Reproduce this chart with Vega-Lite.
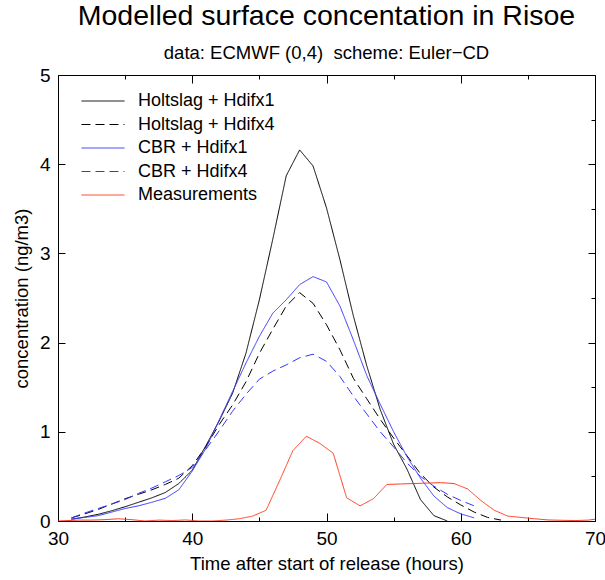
{
  "$schema": "https://vega.github.io/schema/vega-lite/v6.json",
  "width": 537,
  "height": 446,
  "autosize": {"type": "none"},
  "padding": {"left": 58, "top": 75, "right": 10, "bottom": 59},
  "background": "white",
  "title": {
    "text": "Modelled surface concentation in Risoe",
    "subtitle": "data: ECMWF (0,4)\u00a0 scheme: Euler\u2212CD",
    "anchor": "middle",
    "font": "Liberation Sans",
    "fontSize": 28.5,
    "fontWeight": "normal",
    "color": "black",
    "subtitleFont": "Liberation Sans",
    "subtitleFontSize": 18.5,
    "subtitleColor": "black",
    "subtitlePadding": 13,
    "offset": 4
  },
  "config": {
    "font": "Liberation Sans",
    "view": {"stroke": "black", "strokeWidth": 1},
    "axis": {
      "domain": false,
      "grid": false,
      "labelFont": "Liberation Sans",
      "labelFontSize": 19,
      "labelColor": "black",
      "titleFont": "Liberation Sans",
      "titleFontSize": 18.5,
      "titleFontWeight": "normal",
      "titleColor": "black",
      "tickColor": "black"
    },
    "legend": {
      "labelFont": "Liberation Sans",
      "labelFontSize": 18,
      "labelColor": "black"
    }
  },
  "data": {
    "values": [
      {"t": 31, "c": 0.02, "s": "Holtslag + Hdifx1"},
      {"t": 32, "c": 0.045, "s": "Holtslag + Hdifx1"},
      {"t": 33, "c": 0.075, "s": "Holtslag + Hdifx1"},
      {"t": 34, "c": 0.115, "s": "Holtslag + Hdifx1"},
      {"t": 35, "c": 0.16, "s": "Holtslag + Hdifx1"},
      {"t": 36, "c": 0.21, "s": "Holtslag + Hdifx1"},
      {"t": 37, "c": 0.26, "s": "Holtslag + Hdifx1"},
      {"t": 38, "c": 0.32, "s": "Holtslag + Hdifx1"},
      {"t": 39, "c": 0.42, "s": "Holtslag + Hdifx1"},
      {"t": 40, "c": 0.57, "s": "Holtslag + Hdifx1"},
      {"t": 41, "c": 0.84, "s": "Holtslag + Hdifx1"},
      {"t": 42, "c": 1.12, "s": "Holtslag + Hdifx1"},
      {"t": 43, "c": 1.43, "s": "Holtslag + Hdifx1"},
      {"t": 44, "c": 1.88, "s": "Holtslag + Hdifx1"},
      {"t": 45, "c": 2.48, "s": "Holtslag + Hdifx1"},
      {"t": 46, "c": 3.16, "s": "Holtslag + Hdifx1"},
      {"t": 47, "c": 3.87, "s": "Holtslag + Hdifx1"},
      {"t": 48, "c": 4.16, "s": "Holtslag + Hdifx1"},
      {"t": 49, "c": 3.98, "s": "Holtslag + Hdifx1"},
      {"t": 50, "c": 3.51, "s": "Holtslag + Hdifx1"},
      {"t": 51, "c": 2.93, "s": "Holtslag + Hdifx1"},
      {"t": 52, "c": 2.3, "s": "Holtslag + Hdifx1"},
      {"t": 53, "c": 1.74, "s": "Holtslag + Hdifx1"},
      {"t": 54, "c": 1.25, "s": "Holtslag + Hdifx1"},
      {"t": 55, "c": 0.86, "s": "Holtslag + Hdifx1"},
      {"t": 56, "c": 0.58, "s": "Holtslag + Hdifx1"},
      {"t": 57, "c": 0.24, "s": "Holtslag + Hdifx1"},
      {"t": 58, "c": 0.06, "s": "Holtslag + Hdifx1"},
      {"t": 59, "c": 0.0, "s": "Holtslag + Hdifx1"},

      {"t": 31, "c": 0.035, "s": "Holtslag + Hdifx4"},
      {"t": 32, "c": 0.08, "s": "Holtslag + Hdifx4"},
      {"t": 33, "c": 0.13, "s": "Holtslag + Hdifx4"},
      {"t": 34, "c": 0.19, "s": "Holtslag + Hdifx4"},
      {"t": 35, "c": 0.25, "s": "Holtslag + Hdifx4"},
      {"t": 36, "c": 0.3, "s": "Holtslag + Hdifx4"},
      {"t": 37, "c": 0.35, "s": "Holtslag + Hdifx4"},
      {"t": 38, "c": 0.41, "s": "Holtslag + Hdifx4"},
      {"t": 39, "c": 0.48, "s": "Holtslag + Hdifx4"},
      {"t": 40, "c": 0.62, "s": "Holtslag + Hdifx4"},
      {"t": 41, "c": 0.83, "s": "Holtslag + Hdifx4"},
      {"t": 42, "c": 1.08, "s": "Holtslag + Hdifx4"},
      {"t": 43, "c": 1.3, "s": "Holtslag + Hdifx4"},
      {"t": 44, "c": 1.56, "s": "Holtslag + Hdifx4"},
      {"t": 45, "c": 1.88, "s": "Holtslag + Hdifx4"},
      {"t": 46, "c": 2.15, "s": "Holtslag + Hdifx4"},
      {"t": 47, "c": 2.41, "s": "Holtslag + Hdifx4"},
      {"t": 48, "c": 2.56, "s": "Holtslag + Hdifx4"},
      {"t": 49, "c": 2.44, "s": "Holtslag + Hdifx4"},
      {"t": 50, "c": 2.2, "s": "Holtslag + Hdifx4"},
      {"t": 51, "c": 1.92, "s": "Holtslag + Hdifx4"},
      {"t": 52, "c": 1.6, "s": "Holtslag + Hdifx4"},
      {"t": 53, "c": 1.37, "s": "Holtslag + Hdifx4"},
      {"t": 54, "c": 1.14, "s": "Holtslag + Hdifx4"},
      {"t": 55, "c": 0.93, "s": "Holtslag + Hdifx4"},
      {"t": 56, "c": 0.73, "s": "Holtslag + Hdifx4"},
      {"t": 57, "c": 0.53, "s": "Holtslag + Hdifx4"},
      {"t": 58, "c": 0.38, "s": "Holtslag + Hdifx4"},
      {"t": 59, "c": 0.27, "s": "Holtslag + Hdifx4"},
      {"t": 60, "c": 0.18, "s": "Holtslag + Hdifx4"},
      {"t": 61, "c": 0.1, "s": "Holtslag + Hdifx4"},
      {"t": 62, "c": 0.04, "s": "Holtslag + Hdifx4"},
      {"t": 63, "c": 0.01, "s": "Holtslag + Hdifx4"},

      {"t": 31, "c": 0.02, "s": "CBR + Hdifx1"},
      {"t": 32, "c": 0.04, "s": "CBR + Hdifx1"},
      {"t": 33, "c": 0.06, "s": "CBR + Hdifx1"},
      {"t": 34, "c": 0.1, "s": "CBR + Hdifx1"},
      {"t": 35, "c": 0.14, "s": "CBR + Hdifx1"},
      {"t": 36, "c": 0.17, "s": "CBR + Hdifx1"},
      {"t": 37, "c": 0.21, "s": "CBR + Hdifx1"},
      {"t": 38, "c": 0.255, "s": "CBR + Hdifx1"},
      {"t": 39, "c": 0.35, "s": "CBR + Hdifx1"},
      {"t": 40, "c": 0.56, "s": "CBR + Hdifx1"},
      {"t": 41, "c": 0.81, "s": "CBR + Hdifx1"},
      {"t": 42, "c": 1.13, "s": "CBR + Hdifx1"},
      {"t": 43, "c": 1.45, "s": "CBR + Hdifx1"},
      {"t": 44, "c": 1.77, "s": "CBR + Hdifx1"},
      {"t": 45, "c": 2.07, "s": "CBR + Hdifx1"},
      {"t": 46, "c": 2.33, "s": "CBR + Hdifx1"},
      {"t": 47, "c": 2.48, "s": "CBR + Hdifx1"},
      {"t": 48, "c": 2.65, "s": "CBR + Hdifx1"},
      {"t": 49, "c": 2.74, "s": "CBR + Hdifx1"},
      {"t": 50, "c": 2.68, "s": "CBR + Hdifx1"},
      {"t": 51, "c": 2.41, "s": "CBR + Hdifx1"},
      {"t": 52, "c": 2.03, "s": "CBR + Hdifx1"},
      {"t": 53, "c": 1.63, "s": "CBR + Hdifx1"},
      {"t": 54, "c": 1.31, "s": "CBR + Hdifx1"},
      {"t": 55, "c": 1.0, "s": "CBR + Hdifx1"},
      {"t": 56, "c": 0.72, "s": "CBR + Hdifx1"},
      {"t": 57, "c": 0.48, "s": "CBR + Hdifx1"},
      {"t": 58, "c": 0.28, "s": "CBR + Hdifx1"},
      {"t": 59, "c": 0.15, "s": "CBR + Hdifx1"},
      {"t": 60, "c": 0.08, "s": "CBR + Hdifx1"},
      {"t": 61, "c": 0.035, "s": "CBR + Hdifx1"},

      {"t": 31, "c": 0.035, "s": "CBR + Hdifx4"},
      {"t": 32, "c": 0.09, "s": "CBR + Hdifx4"},
      {"t": 33, "c": 0.14, "s": "CBR + Hdifx4"},
      {"t": 34, "c": 0.19, "s": "CBR + Hdifx4"},
      {"t": 35, "c": 0.24, "s": "CBR + Hdifx4"},
      {"t": 36, "c": 0.31, "s": "CBR + Hdifx4"},
      {"t": 37, "c": 0.37, "s": "CBR + Hdifx4"},
      {"t": 38, "c": 0.44, "s": "CBR + Hdifx4"},
      {"t": 39, "c": 0.51, "s": "CBR + Hdifx4"},
      {"t": 40, "c": 0.6, "s": "CBR + Hdifx4"},
      {"t": 41, "c": 0.8, "s": "CBR + Hdifx4"},
      {"t": 42, "c": 1.01, "s": "CBR + Hdifx4"},
      {"t": 43, "c": 1.23, "s": "CBR + Hdifx4"},
      {"t": 44, "c": 1.42, "s": "CBR + Hdifx4"},
      {"t": 45, "c": 1.59, "s": "CBR + Hdifx4"},
      {"t": 46, "c": 1.68, "s": "CBR + Hdifx4"},
      {"t": 47, "c": 1.75, "s": "CBR + Hdifx4"},
      {"t": 48, "c": 1.83, "s": "CBR + Hdifx4"},
      {"t": 49, "c": 1.87, "s": "CBR + Hdifx4"},
      {"t": 50, "c": 1.79, "s": "CBR + Hdifx4"},
      {"t": 51, "c": 1.62, "s": "CBR + Hdifx4"},
      {"t": 52, "c": 1.4, "s": "CBR + Hdifx4"},
      {"t": 53, "c": 1.2, "s": "CBR + Hdifx4"},
      {"t": 54, "c": 1.0, "s": "CBR + Hdifx4"},
      {"t": 55, "c": 0.83, "s": "CBR + Hdifx4"},
      {"t": 56, "c": 0.65, "s": "CBR + Hdifx4"},
      {"t": 57, "c": 0.5, "s": "CBR + Hdifx4"},
      {"t": 58, "c": 0.39, "s": "CBR + Hdifx4"},
      {"t": 59, "c": 0.3, "s": "CBR + Hdifx4"},
      {"t": 60, "c": 0.23, "s": "CBR + Hdifx4"},
      {"t": 61, "c": 0.17, "s": "CBR + Hdifx4"},

      {"t": 30, "c": 0.0, "s": "Measurements"},
      {"t": 31.5, "c": 0.01, "s": "Measurements"},
      {"t": 32.5, "c": 0.01, "s": "Measurements"},
      {"t": 33.5, "c": 0.015, "s": "Measurements"},
      {"t": 34.5, "c": 0.025, "s": "Measurements"},
      {"t": 35.5, "c": 0.015, "s": "Measurements"},
      {"t": 36.5, "c": 0.0, "s": "Measurements"},
      {"t": 37.5, "c": 0.01, "s": "Measurements"},
      {"t": 38.5, "c": 0.005, "s": "Measurements"},
      {"t": 39.5, "c": 0.012, "s": "Measurements"},
      {"t": 40.5, "c": 0.0, "s": "Measurements"},
      {"t": 41.5, "c": 0.0, "s": "Measurements"},
      {"t": 42.5, "c": 0.01, "s": "Measurements"},
      {"t": 43.5, "c": 0.025, "s": "Measurements"},
      {"t": 44.5, "c": 0.055, "s": "Measurements"},
      {"t": 45.5, "c": 0.12, "s": "Measurements"},
      {"t": 46.5, "c": 0.45, "s": "Measurements"},
      {"t": 47.5, "c": 0.79, "s": "Measurements"},
      {"t": 48.5, "c": 0.95, "s": "Measurements"},
      {"t": 49.5, "c": 0.87, "s": "Measurements"},
      {"t": 50.5, "c": 0.76, "s": "Measurements"},
      {"t": 51.5, "c": 0.26, "s": "Measurements"},
      {"t": 52.5, "c": 0.17, "s": "Measurements"},
      {"t": 53.5, "c": 0.25, "s": "Measurements"},
      {"t": 54.5, "c": 0.41, "s": "Measurements"},
      {"t": 55.5, "c": 0.415, "s": "Measurements"},
      {"t": 56.5, "c": 0.42, "s": "Measurements"},
      {"t": 57.5, "c": 0.425, "s": "Measurements"},
      {"t": 58.5, "c": 0.43, "s": "Measurements"},
      {"t": 59.5, "c": 0.42, "s": "Measurements"},
      {"t": 60.5, "c": 0.36, "s": "Measurements"},
      {"t": 61.5, "c": 0.23, "s": "Measurements"},
      {"t": 62.5, "c": 0.12, "s": "Measurements"},
      {"t": 63.5, "c": 0.055, "s": "Measurements"},
      {"t": 64.5, "c": 0.04, "s": "Measurements"},
      {"t": 65.5, "c": 0.025, "s": "Measurements"},
      {"t": 66.5, "c": 0.012, "s": "Measurements"},
      {"t": 67.5, "c": 0.008, "s": "Measurements"},
      {"t": 68.5, "c": 0.005, "s": "Measurements"},
      {"t": 69.5, "c": 0.01, "s": "Measurements"},
      {"t": 70, "c": 0.02, "s": "Measurements"}
    ]
  },
  "layer": [
    {
      "mark": {"type": "line", "strokeWidth": 1, "clip": true},
      "encoding": {
        "x": {
          "field": "t", "type": "quantitative",
          "scale": {"domain": [30, 70], "nice": false, "zero": false},
          "axis": {
            "orient": "bottom",
            "title": "Time after start of release (hours)",
            "values": [30, 35, 40, 45, 50, 55, 60, 65, 70],
            "format": "d",
            "labelExpr": "datum.value % 10 === 0 ? datum.label : ''",
            "tickSize": {"condition": {"test": "datum.value % 10 === 0", "value": -8}, "value": -4},
            "labelPadding": 16,
            "labelFlush": false,
            "titlePadding": 6
          }
        },
        "y": {
          "field": "c", "type": "quantitative",
          "scale": {"domain": [0, 5], "nice": false},
          "axis": {
            "orient": "left",
            "title": "concentration (ng/m3)",
            "values": [0, 0.5, 1, 1.5, 2, 2.5, 3, 3.5, 4, 4.5, 5],
            "format": "d",
            "labelExpr": "datum.value % 1 === 0 ? datum.label : ''",
            "tickSize": {"condition": {"test": "datum.value % 1 === 0", "value": -7}, "value": -4},
            "labelPadding": 15,
            "labelFlush": false,
            "titlePadding": 8
          }
        },
        "color": {
          "field": "s", "type": "nominal",
          "scale": {
            "domain": ["Holtslag + Hdifx1", "Holtslag + Hdifx4", "CBR + Hdifx1", "CBR + Hdifx4", "Measurements"],
            "range": ["#000000", "#000000", "#3535ff", "#3535ff", "#ff3a1f"]
          },
          "legend": {
            "title": null, "orient": "none", "legendX": 36, "legendY": 17,
            "symbolType": "M-3,0H3", "symbolSize": 206, "symbolStrokeWidth": 1,
            "labelOffset": 26, "rowPadding": 5.5, "padding": 0
          }
        },
        "strokeDash": {
          "field": "s", "type": "nominal",
          "scale": {
            "domain": ["Holtslag + Hdifx1", "Holtslag + Hdifx4", "CBR + Hdifx1", "CBR + Hdifx4", "Measurements"],
            "range": [[1, 0], [9, 5], [1, 0], [9, 5], [1, 0]]
          },
          "legend": {
            "title": null, "orient": "none", "legendX": 36, "legendY": 17,
            "symbolType": "M-3,0H3", "symbolSize": 206, "symbolStrokeWidth": 1,
            "labelOffset": 26, "rowPadding": 5.5, "padding": 0
          }
        }
      }
    },
    {
      "mark": {"type": "line", "opacity": 0},
      "encoding": {
        "x": {
          "field": "t", "type": "quantitative",
          "scale": {"domain": [30, 70], "nice": false, "zero": false},
          "axis": {
            "orient": "top", "title": null, "labels": false,
            "values": [30, 35, 40, 45, 50, 55, 60, 65, 70],
            "tickSize": {"condition": {"test": "datum.value % 10 === 0", "value": -8}, "value": -4}
          }
        },
        "y": {
          "field": "c", "type": "quantitative",
          "scale": {"domain": [0, 5], "nice": false},
          "axis": {
            "orient": "right", "title": null, "labels": false,
            "values": [0, 0.5, 1, 1.5, 2, 2.5, 3, 3.5, 4, 4.5, 5],
            "tickSize": {"condition": {"test": "datum.value % 1 === 0", "value": -7}, "value": -4}
          }
        },
        "detail": {"field": "s", "type": "nominal"}
      }
    }
  ],
  "resolve": {"axis": {"x": "independent", "y": "independent"}}
}
